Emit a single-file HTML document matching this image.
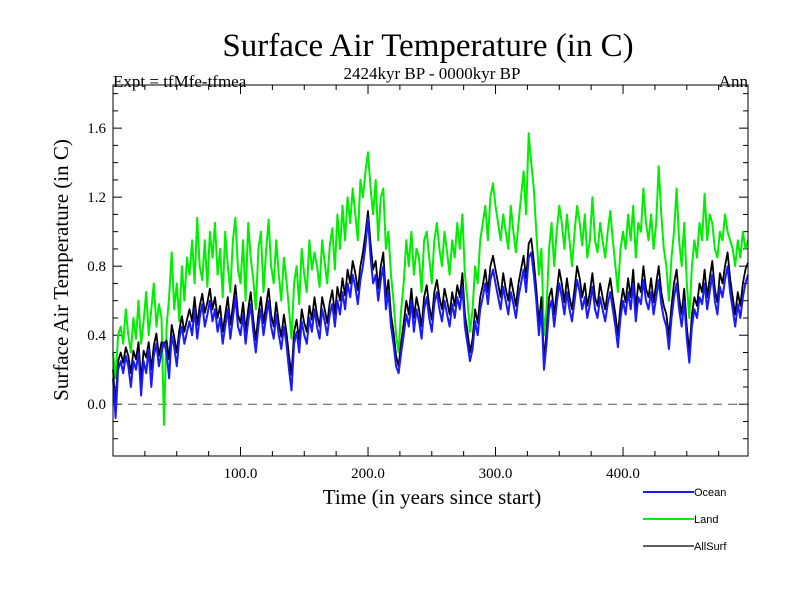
<!DOCTYPE html>
<html><head><meta charset="utf-8"><style>
body{margin:0;background:#fff;}
svg{display:block;font-family:"Liberation Serif",serif;}
</style></head><body>
<svg id="chart" width="800" height="600">
<text x="428" y="56" font-size="33" text-anchor="middle">Surface Air Temperature (in C)</text>
<text x="113" y="87" font-size="17">Expt = tfMfe-tfmea</text>
<text x="432" y="79" font-size="17" text-anchor="middle">2424kyr BP - 0000kyr BP</text>
<text x="748" y="87" font-size="17" text-anchor="end">Ann</text>
<text transform="translate(68,270) rotate(-90)" font-size="21" text-anchor="middle">Surface Air Temperature (in C)</text>
<text x="432" y="504" font-size="21" text-anchor="middle">Time (in years since start)</text>
<g id="ticks"></g>
<g id="series"></g>
<rect x="113" y="85" width="635" height="371" fill="none" stroke="#000" stroke-width="1"/>
<g font-family="Liberation Sans, sans-serif" font-size="11">
<g><line x1="643" y1="492" x2="694" y2="492" stroke="#1a1aff" stroke-width="2"/><text x="694" y="496">Ocean</text></g>
<g><line x1="643" y1="519" x2="694" y2="519" stroke="#00ee00" stroke-width="2"/><text x="694" y="523">Land</text></g>
<g><line x1="643" y1="546" x2="694" y2="546" stroke="#000" stroke-width="1.3"/><text x="694" y="550">AllSurf</text></g>
</g>
</svg>
<script>
const years=[];for(let i=0;i<250;i++)years.push(i*2);
const ocean=[0.15,-0.08,0.20,0.25,0.18,0.28,0.22,0.10,0.25,0.20,
0.30,0.05,0.25,0.18,0.32,0.10,0.28,0.35,0.22,0.30,
0.36,0.30,0.15,0.40,0.33,0.22,0.38,0.45,0.35,0.42,
0.48,0.40,0.55,0.38,0.50,0.58,0.45,0.52,0.60,0.48,
0.55,0.42,0.50,0.35,0.45,0.55,0.38,0.50,0.62,0.45,
0.40,0.52,0.35,0.48,0.58,0.42,0.30,0.45,0.55,0.40,
0.50,0.60,0.45,0.38,0.52,0.40,0.32,0.45,0.35,0.20,
0.08,0.35,0.42,0.30,0.48,0.40,0.35,0.50,0.42,0.55,
0.45,0.38,0.55,0.48,0.40,0.52,0.58,0.45,0.60,0.52,
0.65,0.55,0.70,0.62,0.75,0.68,0.58,0.72,0.80,0.92,
1.08,0.85,0.70,0.75,0.60,0.72,0.80,0.55,0.65,0.45,
0.35,0.22,0.18,0.30,0.40,0.52,0.45,0.60,0.42,0.55,
0.48,0.38,0.55,0.62,0.50,0.42,0.58,0.65,0.55,0.48,
0.60,0.52,0.45,0.58,0.50,0.62,0.55,0.68,0.45,0.35,
0.25,0.32,0.48,0.40,0.55,0.62,0.70,0.58,0.72,0.78,
0.70,0.62,0.55,0.68,0.60,0.52,0.65,0.58,0.50,0.62,
0.70,0.78,0.65,0.85,0.88,0.75,0.60,0.40,0.55,0.20,
0.35,0.55,0.60,0.45,0.58,0.70,0.62,0.52,0.65,0.55,
0.48,0.60,0.72,0.65,0.55,0.62,0.50,0.58,0.68,0.55,
0.50,0.62,0.55,0.48,0.58,0.65,0.55,0.45,0.33,0.50,
0.60,0.52,0.65,0.55,0.70,0.48,0.62,0.58,0.72,0.60,
0.55,0.65,0.52,0.62,0.72,0.58,0.50,0.45,0.32,0.50,
0.62,0.70,0.55,0.45,0.60,0.38,0.24,0.45,0.55,0.50,
0.62,0.58,0.70,0.55,0.65,0.75,0.60,0.52,0.68,0.62,
0.72,0.80,0.65,0.55,0.45,0.58,0.50,0.62,0.70,0.75];
const land=[0.30,0.15,0.40,0.45,0.35,0.55,0.40,0.30,0.50,0.38,
0.60,0.35,0.48,0.65,0.40,0.55,0.70,0.45,0.58,0.50,
-0.12,0.45,0.62,0.88,0.55,0.70,0.48,0.80,0.60,0.85,
0.75,0.95,0.70,1.08,0.80,0.72,0.95,0.68,1.00,0.85,
1.05,0.75,0.90,0.62,1.00,0.80,0.65,0.95,1.08,0.78,
0.70,0.95,0.60,1.05,0.85,0.72,0.55,0.90,1.00,0.65,
0.88,1.07,0.80,0.70,0.95,0.75,0.60,0.85,0.72,0.55,
0.38,0.70,0.80,0.58,0.90,0.75,0.65,0.95,0.78,0.88,
0.80,0.68,0.95,0.82,0.70,0.92,1.02,0.78,1.10,0.90,
1.15,0.95,1.20,1.05,1.25,1.10,0.95,1.30,1.20,1.35,
1.46,1.25,1.10,1.30,0.95,1.20,1.25,0.90,1.00,0.75,
0.60,0.40,0.30,0.55,0.70,0.95,0.80,1.00,0.75,0.90,
0.85,0.65,0.95,1.00,0.85,0.70,0.95,1.05,0.90,0.80,
1.00,0.88,0.75,0.95,0.85,1.05,0.90,1.10,0.75,0.60,
0.42,0.55,0.80,0.70,0.95,1.05,1.15,0.95,1.20,1.28,
1.15,1.05,0.95,1.10,1.00,0.90,1.15,1.00,0.88,1.05,
1.20,1.35,1.10,1.57,1.40,1.25,1.00,0.75,0.90,0.40,
0.55,0.90,1.05,0.80,1.00,1.15,1.05,0.90,1.10,0.95,
0.80,1.00,1.15,1.05,0.92,1.10,0.85,0.95,1.20,0.95,
0.88,1.05,0.95,0.85,1.00,1.12,0.95,0.80,0.65,0.90,
1.00,0.90,1.10,0.95,1.15,0.85,1.05,1.00,1.25,1.05,
0.95,1.10,0.90,1.05,1.38,1.10,0.90,0.80,0.60,0.85,
1.00,1.25,0.95,0.80,1.05,0.70,0.50,0.80,0.95,0.85,
1.05,0.95,1.22,0.95,1.10,1.05,0.90,0.85,1.00,0.95,
1.10,1.00,0.95,0.90,0.80,0.95,0.85,1.00,0.90,0.95];
const allsurf=[0.20,0.00,0.25,0.30,0.24,0.33,0.28,0.18,0.31,0.26,
0.36,0.14,0.31,0.27,0.36,0.20,0.34,0.41,0.28,0.36,
0.34,0.37,0.26,0.46,0.39,0.30,0.43,0.51,0.42,0.49,
0.55,0.48,0.62,0.46,0.57,0.64,0.53,0.59,0.67,0.55,
0.62,0.50,0.57,0.42,0.52,0.62,0.46,0.57,0.69,0.52,
0.47,0.59,0.42,0.55,0.65,0.49,0.37,0.52,0.62,0.47,
0.57,0.67,0.52,0.45,0.59,0.47,0.39,0.52,0.42,0.28,
0.17,0.42,0.49,0.37,0.55,0.47,0.42,0.57,0.49,0.62,
0.52,0.45,0.62,0.55,0.47,0.59,0.66,0.52,0.68,0.60,
0.73,0.63,0.78,0.70,0.83,0.76,0.66,0.80,0.88,0.99,
1.12,0.93,0.78,0.83,0.67,0.80,0.88,0.62,0.72,0.52,
0.42,0.28,0.22,0.36,0.47,0.60,0.52,0.67,0.50,0.62,
0.55,0.45,0.62,0.69,0.57,0.49,0.65,0.72,0.62,0.55,
0.67,0.60,0.52,0.65,0.57,0.69,0.62,0.76,0.52,0.42,
0.30,0.38,0.55,0.47,0.62,0.69,0.78,0.65,0.80,0.86,
0.78,0.70,0.62,0.76,0.67,0.60,0.73,0.65,0.57,0.70,
0.78,0.86,0.73,0.93,0.96,0.83,0.67,0.47,0.62,0.25,
0.42,0.62,0.67,0.52,0.65,0.78,0.70,0.59,0.73,0.62,
0.55,0.67,0.80,0.73,0.62,0.70,0.57,0.65,0.76,0.62,
0.57,0.70,0.62,0.55,0.65,0.73,0.62,0.52,0.40,0.57,
0.67,0.59,0.73,0.62,0.78,0.55,0.70,0.65,0.80,0.67,
0.62,0.73,0.59,0.70,0.80,0.65,0.57,0.52,0.39,0.57,
0.70,0.78,0.62,0.52,0.67,0.45,0.30,0.52,0.62,0.57,
0.70,0.65,0.78,0.62,0.73,0.83,0.67,0.59,0.76,0.70,
0.80,0.88,0.73,0.62,0.52,0.65,0.57,0.70,0.78,0.82];
const xTicks=[100,200,300,400];
const xTickLabels=["100.0","200.0","300.0","400.0"];
const yTicks=[0,0.4,0.8,1.2,1.6];
const yTickLabels=["0.0","0.4","0.8","1.2","1.6"];
const X0=113,X1=748,Y0=456,Y1=85,xmin=0,xmax=498,ymin=-0.30,ymax=1.85;
function sx(v){return X0+(v-xmin)/(xmax-xmin)*(X1-X0);}
function sy(v){return Y0-(v-ymin)/(ymax-ymin)*(Y0-Y1);}
const NS="http://www.w3.org/2000/svg";
const tg=document.getElementById('ticks'),sg=document.getElementById('series');
function ln(p,x1,y1,x2,y2,st,w,dash){const l=document.createElementNS(NS,'line');l.setAttribute('x1',x1);l.setAttribute('y1',y1);l.setAttribute('x2',x2);l.setAttribute('y2',y2);l.setAttribute('stroke',st);l.setAttribute('stroke-width',w);if(dash)l.setAttribute('stroke-dasharray',dash);p.appendChild(l);return l;}
for(let v=25;v<xmax;v+=25){const x=sx(v),L=(v%100===0)?9:5;
const a=ln(tg,x,Y0,x,Y0-L,'#000',1);
const b=ln(tg,x,Y1,x,Y1+L,'#000',1);}
for(let k=-2;k<=18;k++){const v=k/10,y=sy(v),L=(k%4===0)?9:5;
const a=ln(tg,X0,y,X0+L,y,'#000',1);
const b=ln(tg,X1,y,X1-L,y,'#000',1);}
xTicks.forEach((v,i)=>{const t=document.createElementNS(NS,'text');t.setAttribute('x',sx(v));t.setAttribute('y',Y0+22);t.setAttribute('font-size','15');t.setAttribute('text-anchor','middle');t.textContent=xTickLabels[i];


tg.appendChild(t);});
yTicks.forEach((v,i)=>{const t=document.createElementNS(NS,'text');t.setAttribute('x',X0-7);t.setAttribute('y',sy(v)+5);t.setAttribute('font-size','15');t.setAttribute('text-anchor','end');t.textContent=yTickLabels[i];


tg.appendChild(t);});
const z=ln(sg,X0,sy(0),X1,sy(0),'#555',1,'9,6');


function path(vals,color,w,name){const p=document.createElementNS(NS,'path');
p.setAttribute('d',vals.map((v,i)=>(i?'L':'M')+sx(years[i]).toFixed(1)+','+sy(v).toFixed(1)).join(''));
p.setAttribute('fill','none');p.setAttribute('stroke',color);p.setAttribute('stroke-width',w);p.setAttribute('stroke-linejoin','round');


sg.appendChild(p);}
path(land,'#00ee00',2,'land-series');
path(allsurf,'#000',1.8,'allsurf-series');
path(ocean,'#1a1aff',2,'ocean-series');
</script>
</body></html>
